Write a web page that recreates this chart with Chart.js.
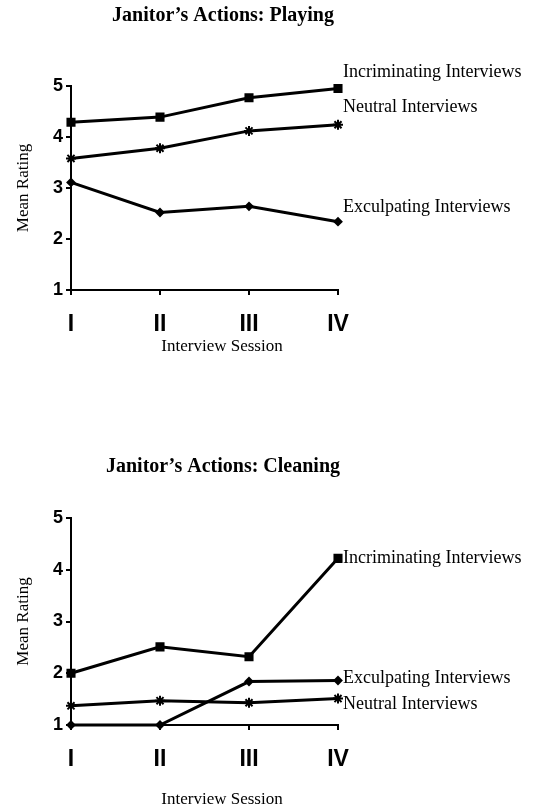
<!DOCTYPE html>
<html lang="en">
  <head>
    <meta charset="UTF-8" />
    <title>Janitor's Actions</title>
    <script src="https://cdn.jsdelivr.net/npm/chart.js@4.4.1/dist/chart.umd.min.js"></script>
    <style>
      body {
        margin: 0;
        background: #ffffff;
        width: 541px;
        height: 810px;
        position: relative;
        overflow: hidden;
      }
      canvas {
        position: absolute;
        left: 0;
      }
      #playChart {
        top: 0;
      }
      #cleanChart {
        top: 440px;
      }
    </style>
  </head>
  <body>
    <canvas id="playChart" width="541" height="370"></canvas>
    <canvas id="cleanChart" width="541" height="370"></canvas>

    <script>
      // data
      const sessions = ["I", "II", "III", "IV"];

      const playingIncriminating = [4.29, 4.39, 4.77, 4.95];
      const playingNeutral = [3.58, 3.78, 4.12, 4.24];
      const playingExculpating = [3.11, 2.52, 2.64, 2.34];

      const cleaningIncriminating = [2.0, 2.51, 2.32, 4.22];
      const cleaningNeutral = [1.37, 1.47, 1.43, 1.51];
      const cleaningExculpating = [1.0, 1.0, 1.84, 1.86];

      const ratingTicks = [1, 2, 3, 4, 5];

      const serif = "'Liberation Serif', 'Times New Roman', serif";
      const sans = "'Liberation Sans', Arial, sans-serif";
      const narrow = "'Liberation Sans Narrow', 'Liberation Sans', Arial, sans-serif";

      // marker per series
      const markers = {
        "Incriminating Interviews": { pointStyle: "rect", pointRadius: 5 },
        "Neutral Interviews": { pointStyle: "star", pointRadius: 5 },
        "Exculpating Interviews": { pointStyle: "rectRot", pointRadius: 3.5 },
      };

      function makeDataset(name, values) {
        return {
          label: name,
          data: values,
          borderColor: "#000",
          backgroundColor: "#000",
          borderWidth: 3,
          pointBorderWidth: 2,
          pointStyle: markers[name].pointStyle,
          pointRadius: markers[name].pointRadius,
          tension: 0,
          fill: false,
          clip: false,
        };
      }

      // text drawn next to the last point of each line + chart titles
      const annotate = {
        id: "annotate",
        afterDatasetsDraw(chart, args, opts) {
          const ctx = chart.ctx;
          ctx.save();
          ctx.fillStyle = "#000";
          ctx.textBaseline = "middle";

          ctx.font = "bold 20px " + serif;
          ctx.textAlign = "center";
          ctx.fillText(opts.title, opts.titleX, opts.titleY);

          ctx.font = "17px " + serif;
          ctx.fillText("Interview Session", opts.axisTitleX, opts.axisTitleY);

          ctx.font = "18px " + serif;
          ctx.textAlign = "left";
          chart.data.datasets.forEach((ds, i) => {
            const pts = chart.getDatasetMeta(i).data;
            const last = pts[pts.length - 1];
            const off = opts.labelOffsets[ds.label];
            ctx.fillText(ds.label, last.x + off[0], last.y + off[1]);
          });
          ctx.restore();
        },
      };

      function makeChart(id, datasets, o) {
        const ctx = document.getElementById(id).getContext("2d");
        return new Chart(ctx, {
          type: "line",
          data: { labels: sessions, datasets: datasets },
          plugins: [annotate],
          options: {
            responsive: false,
            animation: false,
            layout: {
              padding: { left: 8, right: 203, top: o.top, bottom: 0 },
            },
            plugins: {
              legend: { display: false },
              tooltip: { enabled: false },
              annotate: o.annotate,
            },
            scales: {
              x: {
                type: "category",
                offset: false,
                grid: {
                  drawOnChartArea: false,
                  color: "#000",
                  lineWidth: 2,
                  tickLength: 5,
                },
                border: { color: "#000", width: 2 },
                ticks: {
                  color: "#000",
                  padding: 16,
                  font: { family: narrow, size: 23, weight: "bold" },
                },
                afterFit(scale) {
                  scale.height = o.xHeight;
                },
              },
              y: {
                min: 1,
                max: 5,
                afterBuildTicks(scale) {
                  scale.ticks = ratingTicks.map((v) => ({ value: v }));
                },
                grid: {
                  drawOnChartArea: false,
                  color: "#000",
                  lineWidth: 2,
                  tickLength: 5,
                },
                border: { color: "#000", width: 2 },
                ticks: {
                  color: "#000",
                  padding: 3,
                  font: { family: sans, size: 18, weight: "bold" },
                },
                title: {
                  display: true,
                  text: "Mean Rating",
                  color: "#000",
                  padding: { top: 5, bottom: 0 },
                  font: { family: serif, size: 17 },
                },
                afterFit(scale) {
                  scale.width = 63;
                },
              },
            },
          },
        });
      }

      makeChart(
        "playChart",
        [
          makeDataset("Incriminating Interviews", playingIncriminating),
          makeDataset("Neutral Interviews", playingNeutral),
          makeDataset("Exculpating Interviews", playingExculpating),
        ],
        {
          top: 86,
          xHeight: 80,
          annotate: {
            title: "Janitor\u2019s Actions: Playing",
            titleX: 223,
            titleY: 16,
            axisTitleX: 222,
            axisTitleY: 347,
            labelOffsets: {
              "Incriminating Interviews": [5, -16],
              "Neutral Interviews": [5, -17],
              "Exculpating Interviews": [5, -14],
            },
          },
        }
      );

      makeChart(
        "cleanChart",
        [
          makeDataset("Incriminating Interviews", cleaningIncriminating),
          makeDataset("Neutral Interviews", cleaningNeutral),
          makeDataset("Exculpating Interviews", cleaningExculpating),
        ],
        {
          top: 78,
          xHeight: 85,
          annotate: {
            title: "Janitor\u2019s Actions: Cleaning",
            titleX: 223,
            titleY: 27,
            axisTitleX: 222,
            axisTitleY: 360,
            labelOffsets: {
              "Incriminating Interviews": [5, 0],
              "Neutral Interviews": [5, 6],
              "Exculpating Interviews": [5, -2],
            },
          },
        }
      );
    </script>
  </body>
</html>
